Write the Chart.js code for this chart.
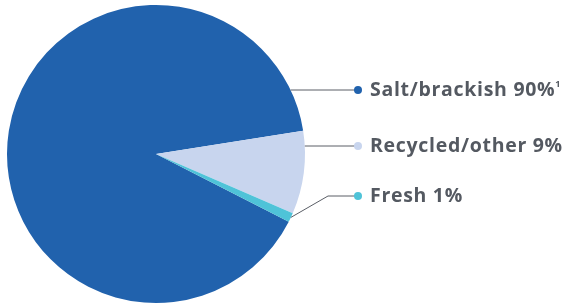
<!DOCTYPE html>
<html>
<head>
<meta charset="utf-8">
<script src="https://cdn.jsdelivr.net/npm/chart.js@4"></script>
<style>
  html, body { margin: 0; padding: 0; background: #fff; }
  #wrap { width: 567px; height: 307px; position: relative; }
</style>
</head>
<body>
<div id="wrap"><canvas id="waterChart" width="567" height="307"></canvas></div>
<script>
// water source shares
const categories = ['Salt/brackish', 'Recycled/other', 'Fresh'];
const shares = [90, 9, 1];
const labelText = ['Salt/brackish 90%', 'Recycled/other 9%', 'Fresh 1%'];
const footnotes = ['1', '', ''];
const colors = ['#2162ad', '#c8d5ee', '#4fc3d8'];

// leader lines, dots and label text on the right
const labelY = [90, 146, 196];
const leaderPlugin = {
  id: 'leaders',
  afterDraw(chart) {
    const ctx = chart.ctx;
    const arcs = chart.getDatasetMeta(0).data;
    const dotX = 358, textX = 370;
    ctx.save();
    arcs.forEach((arc, i) => {
      const cx = arc.x, cy = arc.y, r = arc.outerRadius;
      const y = labelY[i];
      ctx.strokeStyle = '#5a5e66';
      ctx.lineWidth = 1;
      ctx.beginPath();
      if (i < 2) {
        const sx = cx + Math.sqrt(Math.max(0, r * r - (y - cy) * (y - cy)));
        ctx.moveTo(sx, y);
        ctx.lineTo(dotX, y);
      } else {
        const mid = (arc.startAngle + arc.endAngle) / 2;
        const sx = cx + Math.cos(mid) * r, sy = cy + Math.sin(mid) * r;
        ctx.moveTo(sx, sy);
        ctx.lineTo(328, y);
        ctx.lineTo(dotX, y);
      }
      ctx.stroke();
      ctx.fillStyle = colors[i];
      ctx.beginPath();
      ctx.arc(dotX, y, 4, 0, Math.PI * 2);
      ctx.fill();
      ctx.fillStyle = '#545961';
      ctx.font = 'bold 19.5px "Open Sans", sans-serif';
      ctx.letterSpacing = '0.7px';
      ctx.textBaseline = 'middle';
      ctx.textAlign = 'left';
      ctx.fillText(labelText[i], textX, y);
      if (footnotes[i]) {
        const w = ctx.measureText(labelText[i]).width;
        ctx.letterSpacing = '0px';
        ctx.font = 'bold 9px "Open Sans", sans-serif';
        ctx.fillText(footnotes[i], textX + w, y - 6);
      }
    });
    ctx.restore();
  }
};

const waterCtx = document.getElementById('waterChart').getContext('2d');
const waterChart = new Chart(waterCtx, {
  type: 'pie',
  data: {
    labels: categories,
    datasets: [{
      data: shares,
      backgroundColor: colors,
      borderWidth: 0,
    }]
  },
  options: {
    responsive: false,
    animation: false,
    rotation: 117,
    layout: {
      padding: { left: 7, right: 262, top: 5, bottom: 4 }
    },
    plugins: {
      legend: { display: false },
      tooltip: { enabled: false }
    }
  },
  plugins: [leaderPlugin]
});
</script>
</body>
</html>
